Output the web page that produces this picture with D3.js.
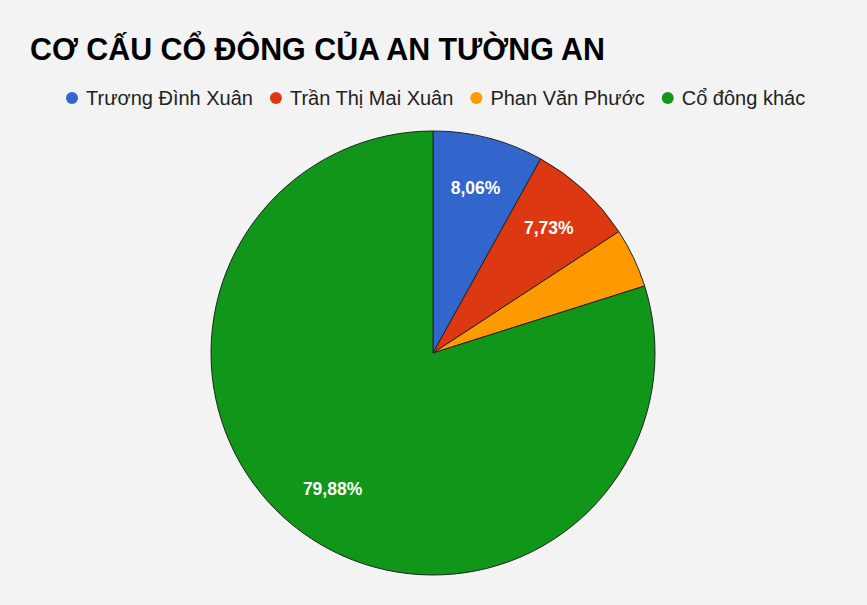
<!DOCTYPE html>
<html>
<head>
<meta charset="utf-8">
<script src="https://cdn.jsdelivr.net/npm/d3@7"></script>
<style>
  body { margin: 0; background: #f3f3f3; }
  svg { display: block; font-family: "Liberation Sans", Arial, sans-serif; }
</style>
</head>
<body>
<div id="chart"></div>
<script>
// Data
var names = ["Trương Đình Xuân", "Trần Thị Mai Xuân", "Phan Văn Phước", "Cổ đông khác"];
var shares = [8.06, 7.73, 4.33, 79.88];
var colors = ["#3366cc", "#dc3912", "#ff9900", "#109618"];

var width = 867;
var height = 605;

var svg = d3.select("#chart")
  .append("svg")
  .attr("width", width)
  .attr("height", height);

svg.append("rect")
  .attr("width", width)
  .attr("height", height)
  .attr("fill", "#f3f3f3");

// Title
svg.append("text")
  .attr("x", 30)
  .attr("y", 60)
  .attr("font-size", 32)
  .attr("font-weight", "bold")
  .attr("fill", "#000")
  .attr("textLength", 575)
  .attr("lengthAdjust", "spacingAndGlyphs")
  .text("CƠ CẤU CỔ ĐÔNG CỦA AN TƯỜNG AN");

// Legend - items laid out left to right, measured after drawing
var legend = svg.append("g").attr("class", "legend");
var lx = 72;
names.forEach(function(n, i) {
  var item = legend.append("g").attr("transform", "translate(" + lx + ",98)");
  item.append("circle").attr("r", 6).attr("fill", colors[i]);
  var t = item.append("text")
    .attr("x", 14)
    .attr("y", 7)
    .attr("font-size", 20)
    .attr("fill", "#222")
    .text(n);
  lx += 14 + t.node().getComputedTextLength() + 23;
});

// Pie
var cx = 433, cy = 353, radius = 222;
var g = svg.append("g").attr("transform", "translate(" + cx + "," + cy + ")");

var pie = d3.pie().sort(null).value(function(d) { return d; });
var arc = d3.arc().innerRadius(0).outerRadius(radius);
var labelArc = d3.arc().innerRadius(170).outerRadius(170);

var arcs = pie(shares);

g.selectAll("path")
  .data(arcs)
  .enter()
  .append("path")
  .attr("d", arc)
  .attr("fill", function(d, i) { return colors[i]; })
  .attr("stroke", "#222")
  .attr("stroke-width", 1);

g.selectAll("text.lbl")
  .data(arcs.filter(function(d) { return d.data > 5; }))
  .enter()
  .append("text")
  .attr("class", "lbl")
  .attr("transform", function(d) { return "translate(" + labelArc.centroid(d) + ")"; })
  .attr("text-anchor", "middle")
  .attr("dy", "0.3em")
  .attr("font-size", 17.5)
  .attr("font-weight", "bold")
  .attr("fill", "#fff")
  .text(function(d) { return d.data.toFixed(2).replace(".", ",") + "%"; });
</script>
</body>
</html>
